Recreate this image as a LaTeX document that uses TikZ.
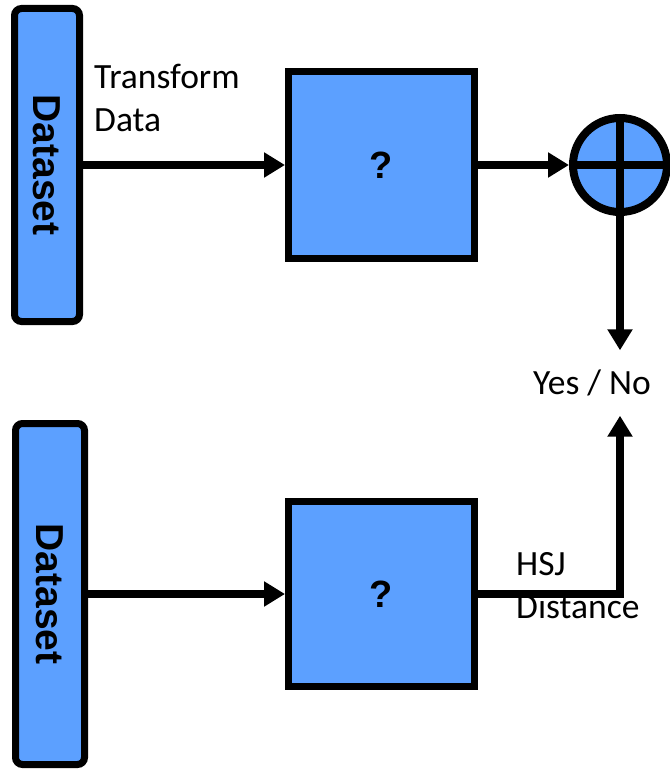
\documentclass[tikz,border=0pt]{standalone}
\usepackage{fontspec}
\usepackage{graphicx}
\setmainfont{Carlito}
\newfontfamily\arialfont{Liberation Sans}
\usetikzlibrary{arrows.meta}
\definecolor{boxblue}{RGB}{92,160,255}
\begin{document}
\begin{tikzpicture}[x=1pt,y=-1pt,
  blk/.style={draw=black,fill=boxblue,line width=7pt,inner sep=0pt},
  dataset/.style={blk,rounded corners=7pt,
    font=\arialfont\bfseries\fontsize{39}{39}\selectfont},
  qbox/.style={blk,minimum width=186pt,minimum height=186pt,
    font=\arialfont\bfseries\fontsize{38}{38}\selectfont},
  sumnode/.style={circle,draw=black,fill=boxblue,line width=8pt,
    minimum size=94pt,inner sep=0pt},
  arr/.style={line width=7.5pt,-{Triangle[length=21pt,width=24pt]}},
  lbl/.style={font=\fontsize{35.5}{43}\selectfont,inner sep=0pt,align=left},
]
\useasboundingbox[fill=white] (0,0) rectangle (669,770);

% upper branch
\node[dataset,minimum width=65pt,minimum height=313pt] (ds1) at (47,165)
  {\rotatebox{-90}{Dataset}};
\node[qbox] (q1) at (381.5,165) {?};
\node[sumnode] (sum) at (620,165) {};
\draw[line width=8pt] (sum.west) -- (sum.east) (sum.north) -- (sum.south);

% lower branch
\node[dataset,minimum width=69pt,minimum height=341pt] (ds2) at (50,594)
  {\rotatebox{-90}{Dataset}};
\node[qbox,minimum height=185pt] (q2) at (381.5,594) {?};

% result
\node[lbl,minimum height=65pt] (yn) at (592,383) {Yes / No};

% connectors
\draw[arr] (ds1.east) -- (q1.west);
\draw[arr] (q1.east) -- (sum.west);
\draw[arr] (sum.south) -- (sum.south |- yn.north);
\draw[arr] (ds2.east) -- (q2.west);
\draw[arr] (q2.east) -| (sum.south |- yn.south);

% labels (base anchor sits on the last line)
\node[lbl,anchor=base west] (tl) at (94,132) {Transform\\Data};
\node[lbl,anchor=base west] (hl) at (516,618) {HSJ\\Distance};
\end{tikzpicture}
\end{document}
